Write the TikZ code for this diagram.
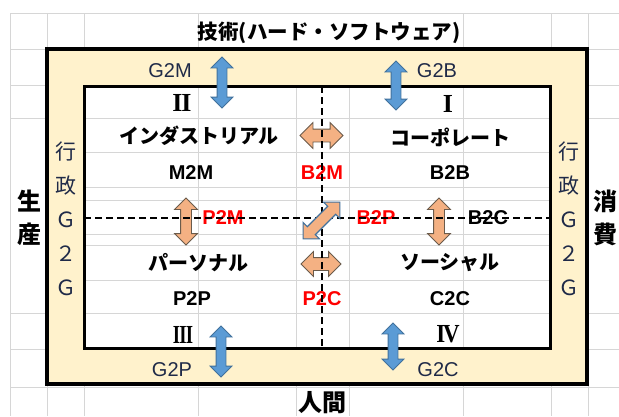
\documentclass[tikz,border=0pt]{standalone}
\usepackage{fontspec}
\setmainfont{Liberation Sans}
\newfontfamily\jpfont{Noto Sans CJK JP}
\newfontfamily\romanfont{Liberation Serif}
\usetikzlibrary{shapes.arrows}
\definecolor{beige}{HTML}{FFF2CC}
\definecolor{gridgray}{HTML}{D6D6D6}
\definecolor{bluefill}{HTML}{5B9BD5}
\definecolor{blueline}{HTML}{41719C}
\definecolor{orangefill}{HTML}{F4B183}
\definecolor{orangeline}{HTML}{6B5B4B}
\definecolor{navy}{HTML}{1F2A48}
\definecolor{redtxt}{HTML}{FF0000}
\begin{document}
\begin{tikzpicture}[x=1pt,y=-1pt,
  gline/.style={draw=gridgray,line width=0.9pt},
  jptitle/.style={font=\jpfont\bfseries\fontsize{20.5}{24}\selectfont,inner sep=0pt},
  jplabel/.style={font=\jpfont\bfseries\fontsize{20}{24}\selectfont,inner sep=0pt},
  jpside/.style={font=\jpfont\bfseries\fontsize{24}{33}\selectfont,align=center,inner sep=0pt},
  govtxt/.style={font=\jpfont\fontsize{21}{34}\selectfont,text=navy,align=center,inner sep=0pt},
  gtxt/.style={font=\fontsize{20}{24}\selectfont,text=navy,inner sep=0pt},
  numtxt/.style={font=\romanfont\bfseries\fontsize{26}{28}\selectfont,inner sep=0pt},
  codetxt/.style={font=\bfseries\fontsize{20}{24}\selectfont,inner sep=0pt},
  redcode/.style={codetxt,text=redtxt},
  bluearrow/.style={double arrow,draw=blueline,fill=bluefill,line width=0.8pt,
    minimum height=#1,inner xsep=0pt,inner ysep=4.5pt,double arrow head extend=6pt,rotate=90},
  orangearrow/.style={double arrow,draw=orangeline,fill=orangefill,line width=0.8pt,
    inner xsep=0pt},
  divider/.style={draw=black,line width=1.6pt,dash pattern=on 7pt off 4pt}
]
\useasboundingbox (0,0) rectangle (619,416);
\fill[white] (0,0) rectangle (619,416);
% spreadsheet grid
\foreach \yy in {13,49,85,118,313,349,387} \draw[gline] (10,\yy) -- (619,\yy);
\foreach \yy in {152,187,200,234,245,280} \draw[gline] (84,\yy) -- (550,\yy);
\foreach \xx in {10,47,84,198,463,551,588} \draw[gline] (\xx,13) -- (\xx,416);
\foreach \xx in {296,349} \draw[gline] (\xx,49) -- (\xx,416);
% band
\fill[beige,even odd rule] (47,49) rectangle (587,384) (84,86) rectangle (550,348);
\draw[line width=4pt] (47,49) rectangle (587,384);
\draw[line width=3pt] (84,86) rectangle (550,348);
% outer labels
\node[jptitle] (title) at (329,33) {技術(ハード・ソフトウェア)};
\node[jpside] (seisan) at (29,218) {生\\産};
\node[jpside] (shohi) at (605,218) {消\\費};
\node[jpside] (ningen) at (322,403) {人間};
\node[govtxt] (lgov) at (66,219) {行\\政\\Ｇ\\２\\Ｇ};
\node[govtxt] (rgov) at (569,219) {行\\政\\Ｇ\\２\\Ｇ};
\node[gtxt] (g2m) at (170,71) {G2M};
\node[gtxt] (g2b) at (437,71) {G2B};
\node[gtxt] (g2p) at (172,370) {G2P};
\node[gtxt] (g2c) at (438,370) {G2C};
% quadrants
\node[numtxt] (q2) at (182,103) {I\kern-1.2pt I};
\node[numtxt] (q1) at (448,104) {I};
\node[numtxt,xscale=0.72] (q3) at (183,335) {I\kern-1.2pt I\kern-1.2pt I};
\node[numtxt,xscale=0.88] (q4) at (448,334) {I\kern-2.5pt V};
\node[jplabel] (ind) at (199,136) {インダストリアル};
\node[jplabel] (corp) at (450,137) {コーポレート};
\node[jplabel] (pers) at (198,263) {パーソナル};
\node[jplabel] (soc) at (450,263) {ソーシャル};
\node[codetxt] (m2m) at (191,173) {M2M};
\node[codetxt] (b2b) at (450,173) {B2B};
\node[codetxt] (p2p) at (192,299) {P2P};
\node[codetxt] (c2c) at (450,299) {C2C};
\node[redcode] (b2m) at (322,173) {B2M};
\node[redcode] (p2c) at (322,299) {P2C};
\node[redcode] (p2m) at (223,218) {P2M};
\node[redcode] (b2p) at (376,218) {B2P};
\node[codetxt] (b2c) at (488,218) {B2C};
% dividers
\coordinate (hl) at (84,218);
\coordinate (hr) at (550,218);
\coordinate (vt) at (322,86);
\coordinate (vb) at (322,348);
% arrows
\node[bluearrow=51pt] (ag2m) at (222,82.5) {};
\node[bluearrow=49pt] (ag2b) at (396,85.5) {};
\node[bluearrow=51pt] (ag2p) at (221,351.5) {};
\node[bluearrow=47pt] (ag2c) at (393,346.5) {};
\node[orangearrow,minimum height=43pt,inner ysep=6pt,double arrow head extend=6.5pt] (ob2m) at (321.5,135.5) {};
\node[orangearrow,minimum height=40pt,inner ysep=6pt,double arrow head extend=6pt] (op2c) at (321,264) {};
\node[orangearrow,minimum height=47pt,inner ysep=5pt,double arrow head extend=6pt,rotate=90] (op2m) at (186,221.5) {};
\node[orangearrow,minimum height=47pt,inner ysep=5pt,double arrow head extend=6pt,rotate=90] (ob2c) at (439,221.5) {};
\draw[divider] (hl) -- (hr);
\draw[divider] (vt) -- (vb);
\node[orangearrow,draw=blueline,line width=1.2pt,minimum height=52pt,inner ysep=5pt,double arrow head extend=6pt,rotate=45] (ob2p) at (321.5,220.5) {};
\end{tikzpicture}
\end{document}
